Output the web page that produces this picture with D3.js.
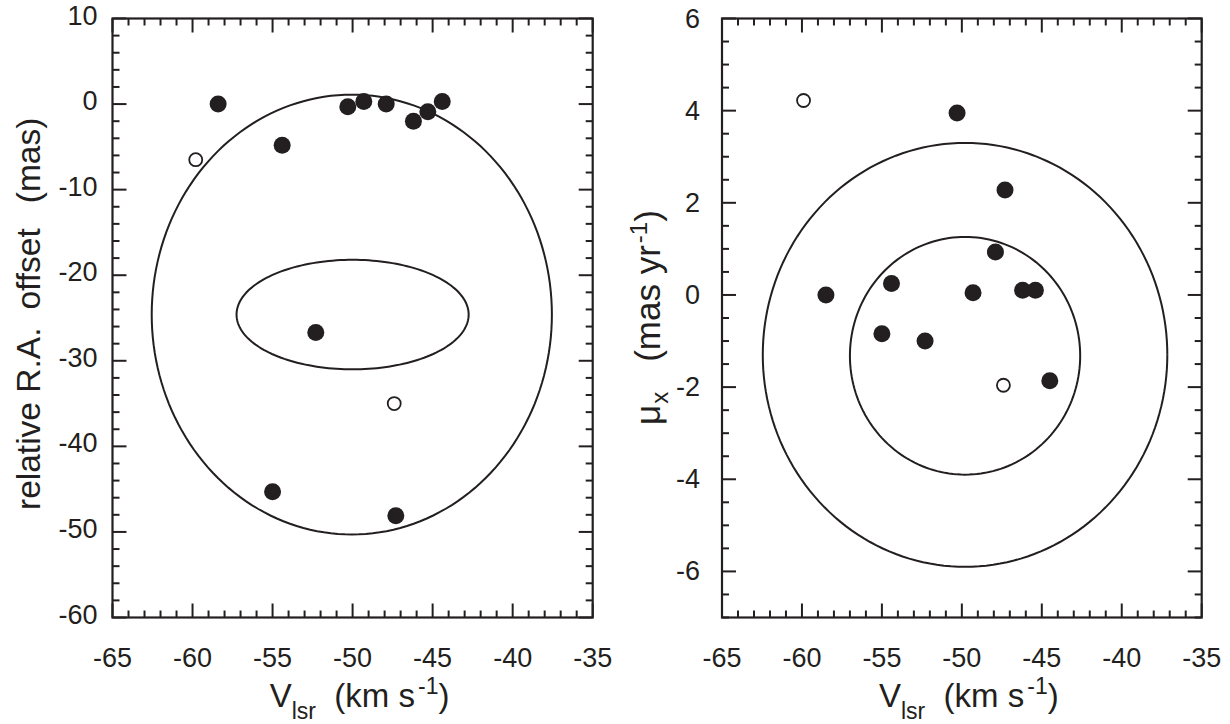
<!DOCTYPE html>
<html>
<head>
<meta charset="utf-8">
<script src="https://cdn.jsdelivr.net/npm/d3@7"></script>
<style>
  html, body { margin: 0; padding: 0; background: #fff; }
  svg { display: block; }
  text { font-family: "Liberation Sans", Arial, Helvetica, sans-serif; fill: #231f20; }
</style>
</head>
<body>
<svg id="chart" width="1230" height="724"></svg>
<script>
// ---------- data ----------
// Left panel: V_lsr (km/s) vs relative R.A. offset (mas)
const leftFilledV   = [-58.4, -54.4, -50.3, -49.3, -47.9, -46.2, -45.3, -44.4, -52.3, -55.0, -47.3];
const leftFilledRA  = [  0.0,  -4.8,  -0.3,   0.3,   0.0,  -2.0,  -0.9,   0.3, -26.7, -45.3, -48.1];
const leftOpenV     = [-59.8, -47.4];
const leftOpenRA    = [ -6.5, -35.0];
// ellipses: [centre V, centre y, semi-axis V, semi-axis y]
const leftEllipses  = [[-50.05, -24.6, 12.5, 25.7], [-50.0, -24.6, 7.25, 6.4]];

// Right panel: V_lsr (km/s) vs mu_x (mas/yr)
const rightFilledV  = [-50.3, -47.3, -47.9, -58.5, -54.4, -49.3, -46.2, -45.4, -55.0, -52.3, -44.5];
const rightFilledMu = [ 3.95,  2.28,  0.93,  0.0,   0.25,  0.05,  0.1,   0.1,  -0.84, -1.0,  -1.86];
const rightOpenV    = [-59.9, -47.4];
const rightOpenMu   = [ 4.22, -1.96];
const rightEllipses = [[-49.8, -1.3, 12.65, 4.6], [-49.8, -1.32, 7.2, 2.58]];

const xTicks      = [-65, -60, -55, -50, -45, -40, -35];
const leftYTicks  = [10, 0, -10, -20, -30, -40, -50, -60];
const rightYTicks = [6, 4, 2, 0, -2, -4, -6];

// ---------- layout ----------
const svg = d3.select("#chart");
const plotTop = 18.5, plotBottom = 617.5;
const ink = "#231f20";

function panel(opts) {
  const g = svg.append("g");
  const x = d3.scaleLinear().domain([-65, -35]).range([opts.x0, opts.x1]);
  const y = d3.scaleLinear().domain(opts.yDomain).range([plotBottom, plotTop]);

  const xMinor = d3.range(-65, -35 + 0.001, 1);
  const yMinor = d3.range(opts.yDomain[0], opts.yDomain[1] + 1e-6, opts.yMinorStep);
  const isMajor = (v, step) => Math.abs(v / step - Math.round(v / step)) < 1e-6;
  const majLen = 14, minLen = 7;

  const tickG = g.append("g").attr("stroke", ink).attr("stroke-width", 2);
  xMinor.forEach(v => {
    const Lh = isMajor(v, 5) ? majLen : minLen;
    tickG.append("line").attr("x1", x(v)).attr("x2", x(v)).attr("y1", plotBottom).attr("y2", plotBottom - Lh);
    tickG.append("line").attr("x1", x(v)).attr("x2", x(v)).attr("y1", plotTop).attr("y2", plotTop + Lh);
  });
  yMinor.forEach(v => {
    const Lh = isMajor(v, opts.yMajorStep) ? majLen : minLen;
    tickG.append("line").attr("x1", opts.x0).attr("x2", opts.x0 + Lh).attr("y1", y(v)).attr("y2", y(v));
    tickG.append("line").attr("x1", opts.x1).attr("x2", opts.x1 - Lh).attr("y1", y(v)).attr("y2", y(v));
  });

  g.append("rect").attr("x", opts.x0).attr("y", plotTop)
    .attr("width", opts.x1 - opts.x0).attr("height", plotBottom - plotTop)
    .attr("fill", "none").attr("stroke", ink).attr("stroke-width", 2.2);

  g.append("g").selectAll("text").data(xTicks).join("text")
    .attr("x", d => x(d)).attr("y", 667)
    .attr("text-anchor", "middle").attr("font-size", 27)
    .text(d => d);
  g.append("g").selectAll("text").data(opts.yTicks).join("text")
    .attr("x", opts.x0 - opts.yLabelGap).attr("y", d => y(d) + opts.yLabelDy)
    .attr("text-anchor", "end").attr("font-size", 27)
    .text(d => d);

  const line = d3.line().x(d => x(d[0])).y(d => y(d[1]));
  opts.ellipses.forEach(e => {
    const pts = d3.range(0, 361, 2).map(a => {
      const t = a * Math.PI / 180;
      return [e[0] + e[2] * Math.cos(t), e[1] + e[3] * Math.sin(t)];
    });
    g.append("path").attr("d", line(pts)).attr("fill", "none")
      .attr("stroke", ink).attr("stroke-width", 2);
  });

  g.append("g").selectAll("circle").data(opts.openV.map((v, i) => [v, opts.openY[i]])).join("circle")
    .attr("cx", d => x(d[0])).attr("cy", d => y(d[1])).attr("r", 6.5)
    .attr("fill", "#fff").attr("stroke", ink).attr("stroke-width", 1.8);
  g.append("g").selectAll("circle").data(opts.filledV.map((v, i) => [v, opts.filledY[i]])).join("circle")
    .attr("cx", d => x(d[0])).attr("cy", d => y(d[1])).attr("r", 8.5)
    .attr("fill", ink);

  const cx = (opts.x0 + opts.x1) / 2 + 7;
  const xt = g.append("text").attr("x", cx).attr("y", 707)
    .attr("text-anchor", "middle").attr("font-size", 33);
  xt.append("tspan").text("V");
  xt.append("tspan").attr("font-size", 23).attr("dy", 12).text("lsr");
  xt.append("tspan").attr("dy", -12).text("\u00a0\u00a0(km s");
  xt.append("tspan").attr("font-size", 23).attr("dy", -13).attr("dx", 3).text("-1");
  xt.append("tspan").attr("dy", 13).text(")");

  return {g, x, y};
}

panel({
  x0: 112.5, x1: 592.7, yDomain: [-60, 10], yMinorStep: 2, yMajorStep: 10,
  yTicks: leftYTicks, yLabelGap: 15, yLabelDy: 6,
  ellipses: leftEllipses, filledV: leftFilledV, filledY: leftFilledRA,
  openV: leftOpenV, openY: leftOpenRA
});
panel({
  x0: 722, x1: 1201.7, yDomain: [-7, 6], yMinorStep: 0.5, yMajorStep: 2,
  yTicks: rightYTicks, yLabelGap: 22, yLabelDy: 9,
  ellipses: rightEllipses, filledV: rightFilledV, filledY: rightFilledMu,
  openV: rightOpenV, openY: rightOpenMu
});

// left y title
const lt = svg.append("text").attr("transform", "translate(40,510) rotate(-90)")
  .attr("text-anchor", "start").attr("font-size", 33.5);
lt.append("tspan").text("relative R.A.");
lt.append("tspan").attr("dx", 18).text("offset");
lt.append("tspan").attr("dx", 25).text("(mas)");

// right y title
const yt = svg.append("text").attr("transform", "translate(660,425) rotate(-90)")
  .attr("text-anchor", "start").attr("font-size", 35);
yt.append("tspan").text("\u03bc");
yt.append("tspan").attr("font-size", 24).attr("dy", 8).attr("dx", 1).text("x");
yt.append("tspan").attr("dy", -8).attr("dx", 30).text("(mas yr");
yt.append("tspan").attr("font-size", 24).attr("dy", -13).attr("dx", 2).text("-1");
yt.append("tspan").attr("dy", 13).text(")");
</script>
</body>
</html>
